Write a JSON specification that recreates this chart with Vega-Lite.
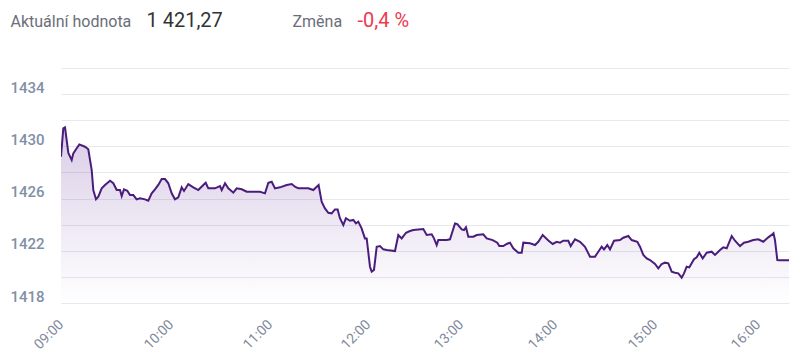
{
  "$schema": "https://vega.github.io/schema/vega-lite/v6.json",
  "width": 728,
  "height": 235,
  "autosize": {"type": "none"},
  "padding": {"left": 61, "top": 68, "right": 11, "bottom": 59},
  "background": "white",
  "config": {"view": {"stroke": null}, "font": "Roboto"},
  "data": {"format": {"parse": {"t": "date"}}, "values": [
    {"t":"2024-01-15T09:00:00","v":1429.20},{"t":"2024-01-15T09:01:15","v":1431.38},{"t":"2024-01-15T09:02:11","v":1431.45},{"t":"2024-01-15T09:04:00","v":1429.49},{"t":"2024-01-15T09:05:50","v":1428.95},{"t":"2024-01-15T09:06:43","v":1429.46},{"t":"2024-01-15T09:08:34","v":1429.85},{"t":"2024-01-15T09:10:00","v":1430.15},{"t":"2024-01-15T09:13:05","v":1429.97},{"t":"2024-01-15T09:14:53","v":1429.77},{"t":"2024-01-15T09:16:45","v":1428.18},{"t":"2024-01-15T09:17:37","v":1426.65},{"t":"2024-01-15T09:19:05","v":1425.94},{"t":"2024-01-15T09:20:21","v":1426.14},{"t":"2024-01-15T09:22:12","v":1426.78},{"t":"2024-01-15T09:24:00","v":1427.04},{"t":"2024-01-15T09:26:44","v":1427.36},{"t":"2024-01-15T09:28:32","v":1427.17},{"t":"2024-01-15T09:30:23","v":1426.65},{"t":"2024-01-15T09:32:11","v":1426.65},{"t":"2024-01-15T09:33:07","v":1426.19},{"t":"2024-01-15T09:34:22","v":1426.71},{"t":"2024-01-15T09:36:10","v":1426.60},{"t":"2024-01-15T09:37:38","v":1426.27},{"t":"2024-01-15T09:39:26","v":1426.27},{"t":"2024-01-15T09:41:17","v":1425.94},{"t":"2024-01-15T09:43:05","v":1426.02},{"t":"2024-01-15T09:45:49","v":1425.94},{"t":"2024-01-15T09:47:37","v":1425.83},{"t":"2024-01-15T09:49:28","v":1426.40},{"t":"2024-01-15T09:51:16","v":1426.71},{"t":"2024-01-15T09:53:04","v":1427.04},{"t":"2024-01-15T09:54:56","v":1427.49},{"t":"2024-01-15T09:56:44","v":1427.49},{"t":"2024-01-15T09:58:32","v":1427.17},
    {"t":"2024-01-15T10:00:25","v":1426.40},{"t":"2024-01-15T10:02:25","v":1425.94},{"t":"2024-01-15T10:04:25","v":1426.09},{"t":"2024-01-15T10:06:29","v":1426.86},{"t":"2024-01-15T10:07:53","v":1426.58},{"t":"2024-01-15T10:10:29","v":1427.11},{"t":"2024-01-15T10:13:31","v":1426.86},{"t":"2024-01-15T10:16:33","v":1426.65},{"t":"2024-01-15T10:19:35","v":1427.04},{"t":"2024-01-15T10:21:02","v":1427.21},{"t":"2024-01-15T10:22:37","v":1426.78},{"t":"2024-01-15T10:26:40","v":1426.78},{"t":"2024-01-15T10:29:42","v":1426.96},{"t":"2024-01-15T10:30:44","v":1426.65},{"t":"2024-01-15T10:32:44","v":1427.17},{"t":"2024-01-15T10:34:44","v":1426.78},{"t":"2024-01-15T10:37:46","v":1426.45},{"t":"2024-01-15T10:39:49","v":1426.78},{"t":"2024-01-15T10:42:51","v":1426.71},{"t":"2024-01-15T10:45:53","v":1426.52},{"t":"2024-01-15T10:49:53","v":1426.52},{"t":"2024-01-15T10:53:56","v":1426.52},{"t":"2024-01-15T10:56:58","v":1426.40},{"t":"2024-01-15T10:59:00","v":1427.21},
    {"t":"2024-01-15T11:01:02","v":1427.29},{"t":"2024-01-15T11:03:04","v":1426.78},{"t":"2024-01-15T11:06:07","v":1426.86},{"t":"2024-01-15T11:10:13","v":1427.04},{"t":"2024-01-15T11:13:17","v":1427.11},{"t":"2024-01-15T11:15:18","v":1426.91},{"t":"2024-01-15T11:17:20","v":1426.78},{"t":"2024-01-15T11:20:23","v":1426.78},{"t":"2024-01-15T11:23:27","v":1426.78},{"t":"2024-01-15T11:26:31","v":1426.65},{"t":"2024-01-15T11:29:46","v":1427.04},{"t":"2024-01-15T11:31:37","v":1425.76},{"t":"2024-01-15T11:33:38","v":1425.25},{"t":"2024-01-15T11:35:43","v":1424.91},{"t":"2024-01-15T11:37:44","v":1424.87},{"t":"2024-01-15T11:39:45","v":1425.17},{"t":"2024-01-15T11:41:24","v":1425.17},{"t":"2024-01-15T11:42:49","v":1424.49},{"t":"2024-01-15T11:44:53","v":1423.97},{"t":"2024-01-15T11:46:29","v":1424.49},{"t":"2024-01-15T11:48:56","v":1424.30},{"t":"2024-01-15T11:51:01","v":1424.36},{"t":"2024-01-15T11:52:36","v":1424.10},{"t":"2024-01-15T11:54:04","v":1424.23},{"t":"2024-01-15T11:56:05","v":1423.72},{"t":"2024-01-15T11:58:07","v":1422.95},{"t":"2024-01-15T11:59:12","v":1422.95},
    {"t":"2024-01-15T12:01:17","v":1420.78},{"t":"2024-01-15T12:02:23","v":1420.40},{"t":"2024-01-15T12:03:52","v":1420.53},{"t":"2024-01-15T12:05:37","v":1422.31},{"t":"2024-01-15T12:07:44","v":1422.36},{"t":"2024-01-15T12:09:52","v":1422.11},{"t":"2024-01-15T12:12:04","v":1422.06},{"t":"2024-01-15T12:17:25","v":1421.98},{"t":"2024-01-15T12:19:33","v":1423.21},{"t":"2024-01-15T12:21:44","v":1422.95},{"t":"2024-01-15T12:24:31","v":1423.38},{"t":"2024-01-15T12:27:06","v":1423.51},{"t":"2024-01-15T12:29:14","v":1423.59},{"t":"2024-01-15T12:35:41","v":1423.67},{"t":"2024-01-15T12:37:52","v":1423.21},{"t":"2024-01-15T12:41:06","v":1423.26},{"t":"2024-01-15T12:42:35","v":1422.95},{"t":"2024-01-15T12:44:19","v":1422.44},{"t":"2024-01-15T12:45:21","v":1422.82},{"t":"2024-01-15T12:50:46","v":1422.82},{"t":"2024-01-15T12:52:54","v":1422.88},{"t":"2024-01-15T12:56:08","v":1424.10},{"t":"2024-01-15T12:57:37","v":1424.05},
    {"t":"2024-01-15T13:00:27","v":1423.64},{"t":"2024-01-15T13:01:55","v":1423.59},{"t":"2024-01-15T13:03:11","v":1423.80},{"t":"2024-01-15T13:04:40","v":1423.08},{"t":"2024-01-15T13:07:51","v":1423.08},{"t":"2024-01-15T13:10:01","v":1423.21},{"t":"2024-01-15T13:14:14","v":1423.26},{"t":"2024-01-15T13:16:24","v":1422.95},{"t":"2024-01-15T13:20:14","v":1422.82},{"t":"2024-01-15T13:23:10","v":1422.62},{"t":"2024-01-15T13:24:27","v":1422.36},{"t":"2024-01-15T13:27:00","v":1422.36},{"t":"2024-01-15T13:29:10","v":1422.52},{"t":"2024-01-15T13:31:17","v":1422.62},{"t":"2024-01-15T13:33:23","v":1422.19},{"t":"2024-01-15T13:36:35","v":1421.85},{"t":"2024-01-15T13:38:45","v":1421.85},{"t":"2024-01-15T13:39:46","v":1422.62},{"t":"2024-01-15T13:44:03","v":1422.57},{"t":"2024-01-15T13:47:14","v":1422.44},{"t":"2024-01-15T13:49:21","v":1422.69},{"t":"2024-01-15T13:52:09","v":1423.21},{"t":"2024-01-15T13:55:44","v":1422.79},{"t":"2024-01-15T13:58:32","v":1422.52},
    {"t":"2024-01-15T14:01:01","v":1422.69},{"t":"2024-01-15T14:03:00","v":1422.62},{"t":"2024-01-15T14:04:59","v":1422.77},{"t":"2024-01-15T14:07:59","v":1422.77},{"t":"2024-01-15T14:09:25","v":1422.36},{"t":"2024-01-15T14:12:00","v":1422.88},{"t":"2024-01-15T14:15:00","v":1422.69},{"t":"2024-01-15T14:18:00","v":1422.31},{"t":"2024-01-15T14:21:00","v":1421.55},{"t":"2024-01-15T14:24:00","v":1421.55},{"t":"2024-01-15T14:25:59","v":1421.93},{"t":"2024-01-15T14:28:01","v":1422.31},{"t":"2024-01-15T14:29:24","v":1422.11},{"t":"2024-01-15T14:31:23","v":1422.44},{"t":"2024-01-15T14:33:00","v":1422.11},{"t":"2024-01-15T14:35:24","v":1422.77},{"t":"2024-01-15T14:39:00","v":1422.82},{"t":"2024-01-15T14:40:59","v":1423.00},{"t":"2024-01-15T14:43:59","v":1423.13},{"t":"2024-01-15T14:46:01","v":1422.82},{"t":"2024-01-15T14:49:23","v":1422.69},{"t":"2024-01-15T14:51:00","v":1422.31},{"t":"2024-01-15T14:52:59","v":1421.68},{"t":"2024-01-15T14:55:01","v":1421.42},{"t":"2024-01-15T14:57:00","v":1421.29},
    {"t":"2024-01-15T15:00:00","v":1420.99},{"t":"2024-01-15T15:01:55","v":1420.66},{"t":"2024-01-15T15:03:54","v":1420.99},{"t":"2024-01-15T15:05:50","v":1421.09},{"t":"2024-01-15T15:07:45","v":1421.04},{"t":"2024-01-15T15:09:44","v":1420.40},{"t":"2024-01-15T15:11:39","v":1420.32},{"t":"2024-01-15T15:13:34","v":1420.27},{"t":"2024-01-15T15:15:33","v":1419.94},{"t":"2024-01-15T15:16:53","v":1420.27},{"t":"2024-01-15T15:18:28","v":1420.78},{"t":"2024-01-15T15:19:59","v":1420.73},{"t":"2024-01-15T15:22:43","v":1421.35},{"t":"2024-01-15T15:24:17","v":1421.50},{"t":"2024-01-15T15:25:48","v":1421.85},{"t":"2024-01-15T15:27:47","v":1421.42},{"t":"2024-01-15T15:30:07","v":1421.85},{"t":"2024-01-15T15:33:01","v":1421.93},{"t":"2024-01-15T15:34:57","v":1421.68},{"t":"2024-01-15T15:37:52","v":1422.06},{"t":"2024-01-15T15:39:47","v":1422.26},{"t":"2024-01-15T15:41:46","v":1422.19},{"t":"2024-01-15T15:44:41","v":1423.13},{"t":"2024-01-15T15:46:36","v":1422.77},{"t":"2024-01-15T15:49:31","v":1422.36},{"t":"2024-01-15T15:51:50","v":1422.62},{"t":"2024-01-15T15:54:20","v":1422.69},{"t":"2024-01-15T15:57:15","v":1422.82},
    {"t":"2024-01-15T16:00:10","v":1422.88},{"t":"2024-01-15T16:03:05","v":1422.69},{"t":"2024-01-15T16:05:59","v":1423.03},{"t":"2024-01-15T16:08:32","v":1423.28},{"t":"2024-01-15T16:09:00","v":1423.34},{"t":"2024-01-15T16:09:52","v":1422.82},{"t":"2024-01-15T16:11:13","v":1421.29},{"t":"2024-01-15T16:12:46","v":1421.27},{"t":"2024-01-15T16:18:00","v":1421.27}
  ]},
  "resolve": {"axis": {"x": "independent", "y": "independent"}},
  "layer": [
    {
      "mark": {
        "type": "area",
        "clip": true,
        "color": {
          "gradient": "linear", "x1": 0, "y1": 0, "x2": 0, "y2": 1,
          "stops": [
            {"offset": 0, "color": "rgba(110,60,160,0.26)"},
            {"offset": 1, "color": "rgba(110,60,160,0)"}
          ]
        }
      },
      "encoding": {
        "x": {
          "field": "t", "type": "quantitative",
          "scale": {
            "type": "linear",
            "domain": {"expr": "[datetime(2024,0,15,9,0), datetime(2024,0,15,10,0), datetime(2024,0,15,11,0), datetime(2024,0,15,12,0), datetime(2024,0,15,13,0), datetime(2024,0,15,14,0), datetime(2024,0,15,15,0), datetime(2024,0,15,16,0), datetime(2024,0,15,16,18)]"},
            "range": [0, 110, 209, 307, 400, 494, 594, 697, 728],
            "nice": false,
            "zero": false
          },
          "axis": {
            "orient": "bottom",
            "values": {"expr": "[datetime(2024,0,15,9,0), datetime(2024,0,15,10,0), datetime(2024,0,15,11,0), datetime(2024,0,15,12,0), datetime(2024,0,15,13,0), datetime(2024,0,15,14,0), datetime(2024,0,15,15,0), datetime(2024,0,15,16,0)]"},
            "format": "%H:%M",
            "formatType": "time",
            "labelAngle": -45,
            "labelAlign": "right",
            "labelBaseline": "middle",
            "labelPadding": 19,
            "labelFontSize": 14,
            "labelColor": "#7f8a9c",
            "labelFont": "Roboto",
            "labelOverlap": false,
            "labelFlush": false,
            "grid": false,
            "ticks": false,
            "tickSize": 0,
            "domain": false,
            "title": "-0,4 %",
            "titleX": 296,
            "titleY": -277,
            "titleAlign": "left",
            "titleAnchor": "start",
            "titleAngle": 0,
            "titleBaseline": "alphabetic",
            "titleFont": "Roboto",
            "titleFontSize": 20,
            "titleFontWeight": "normal",
            "titleColor": "#ee3a4f"
          }
        },
        "y": {
          "field": "v", "type": "quantitative",
          "scale": {"domain": [1418, 1436], "zero": false, "nice": false},
          "axis": {
            "orient": "left",
            "values": [1418, 1420, 1422, 1424, 1426, 1428, 1430, 1432, 1434, 1436],
            "format": "d",
            "labelExpr": "datum.value % 4 == 2 ? datum.label : ''",
            "labelAlign": "left",
            "labelBaseline": "alphabetic",
            "labelOffset": -2,
            "labelPadding": 51,
            "labelFontSize": 15,
            "labelFont": "Roboto",
            "labelFontWeight": 500,
            "labelColor": "#8190a6",
            "labelOverlap": false,
            "labelFlush": false,
            "grid": true,
            "gridColor": "#e8e8ec",
            "gridWidth": 1,
            "ticks": false,
            "tickSize": 0,
            "domain": false,
            "title": "1 421,27",
            "titleX": 85,
            "titleY": -42,
            "titleAngle": 0,
            "titleAlign": "left",
            "titleAnchor": "start",
            "titleBaseline": "alphabetic",
            "titleFont": "Roboto",
            "titleFontSize": 20,
            "titleFontWeight": "normal",
            "titleColor": "#333333"
          }
        },
        "y2": {"datum": 1418}
      }
    },
    {
      "mark": {"type": "line", "color": "#4a1d7d", "strokeWidth": 2, "clip": true},
      "encoding": {
        "x": {
          "field": "t", "type": "quantitative",
          "axis": {
            "orient": "top",
            "labels": false, "ticks": false, "domain": false, "grid": false,
            "title": "Aktuální hodnota",
            "titleX": -51,
            "titleY": -42,
            "titleAngle": 0,
            "titleAlign": "left",
            "titleAnchor": "start",
            "titleBaseline": "alphabetic",
            "titleFont": "Roboto",
            "titleFontSize": 16,
            "titleFontWeight": "normal",
            "titleColor": "#6b6e78"
          }
        },
        "y": {
          "field": "v", "type": "quantitative",
          "axis": {
            "orient": "right",
            "labels": false, "ticks": false, "domain": false, "grid": false,
            "title": "Změna",
            "titleX": -497,
            "titleY": -42,
            "titleAngle": 0,
            "titleAlign": "left",
            "titleAnchor": "start",
            "titleBaseline": "alphabetic",
            "titleFont": "Roboto",
            "titleFontSize": 16,
            "titleFontWeight": "normal",
            "titleColor": "#6b6e78"
          }
        }
      }
    }
  ]
}
